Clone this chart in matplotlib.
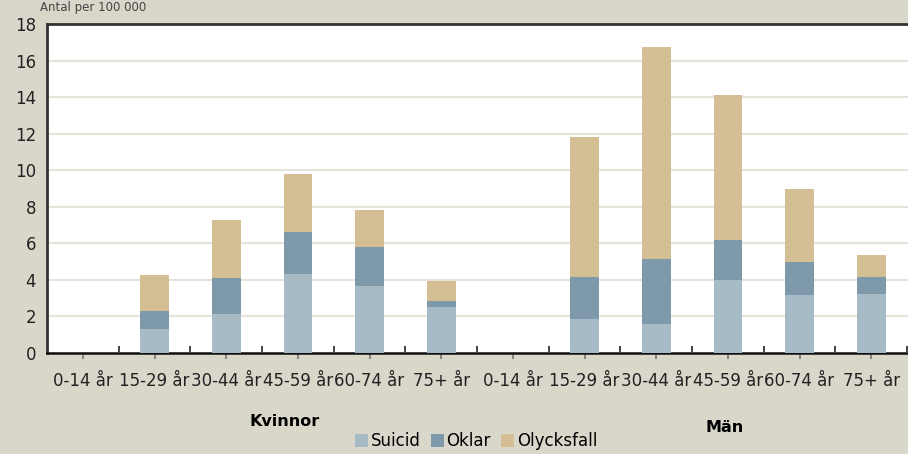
import matplotlib
matplotlib.use("Agg")
import matplotlib.pyplot as plt
import numpy as np

categories = ["0-14 år", "15-29 år", "30-44 år", "45-59 år", "60-74 år", "75+ år",
              "0-14 år", "15-29 år", "30-44 år", "45-59 år", "60-74 år", "75+ år"]
groups = ["Kvinnor", "Män"]
suicid = [0, 1.33, 2.14, 4.31, 3.67, 2.53, 0, 1.86, 1.56, 4.01, 3.17, 3.24]
oklar = [0, 0.96, 1.98, 2.32, 2.13, 0.32, 0, 2.31, 3.56, 2.19, 1.81, 0.92]
olycksfall = [0, 2.00, 3.17, 3.19, 2.02, 1.11, 0, 7.65, 11.65, 7.92, 4.01, 1.18]
series_names = ["Suicid", "Oklar", "Olycksfall"]
colors = ["#A7BBC6", "#7D99AA", "#D3BF93"]
yticks = [0, 2, 4, 6, 8, 10, 12, 14, 16, 18]

plt.rcParams['font.family'] = ['DejaVu Sans']
bg = "#D9D6CA"
fig = plt.figure(figsize=(9.08, 4.54), dpi=100, facecolor=bg)
ax = fig.add_axes([0.0518, 0.2225, 0.9482 + 0.01, 0.7245])
ax.set_facecolor("white")

x = np.arange(len(categories))
s = np.array(suicid); o = np.array(oklar); l = np.array(olycksfall)
w = 0.40
ax.bar(x, s, w, color=colors[0], label=series_names[0], edgecolor="none", zorder=3)
ax.bar(x, o, w, bottom=s, color=colors[1], label=series_names[1], edgecolor="none", zorder=3)
ax.bar(x, l, w, bottom=s + o, color=colors[2], label=series_names[2], edgecolor="none", zorder=3)

ax.set_xlim(-0.5, len(categories) - 0.5 + 0.14)
ax.set_ylim(0, 18)
ax.set_yticks(yticks)
ax.set_yticklabels([str(v) for v in yticks], fontsize=12, color="#222222")
ax.yaxis.grid(True, color="#E6E3DA", linewidth=1.5, zorder=0)
ax.set_axisbelow(True)
ax.tick_params(axis='y', length=0, pad=8)

ax.set_xticks(x)
ax.set_xticklabels(categories, fontsize=12, color="#222222")
ax.set_xticks(np.arange(len(categories)) + 0.5, minor=True)
ax.tick_params(axis='x', which='major', direction='out', length=4, color="#777777", width=1.2, pad=10)
ax.tick_params(axis='x', which='minor', direction='in', length=5, color="#222222", width=1.2)

for side in ["top", "left"]:
    ax.spines[side].set_color("#333333")
    ax.spines[side].set_linewidth(2)
ax.spines["bottom"].set_color("#111111")
ax.spines["bottom"].set_linewidth(1.8)
ax.spines["right"].set_visible(False)

fig.text(285 / 908, 1 - 422 / 454, groups[0], fontsize=11.5, fontweight="bold", ha="center", va="center")
fig.text(725 / 908, 1 - 428 / 454, groups[1], fontsize=11.5, fontweight="bold", ha="center", va="center")
fig.text(40 / 908, 0.998, "Antal per 100 000", fontsize=8.5, ha="left", va="top", color="#444444")

leg = fig.legend(loc="center", bbox_to_anchor=(476 / 908, 1 - 441 / 454), ncol=3, frameon=False,
                 fontsize=12, handlelength=0.8, handleheight=0.8, handletextpad=0.15, columnspacing=0.6)

fig.savefig("out.png", dpi=100, facecolor=bg)
